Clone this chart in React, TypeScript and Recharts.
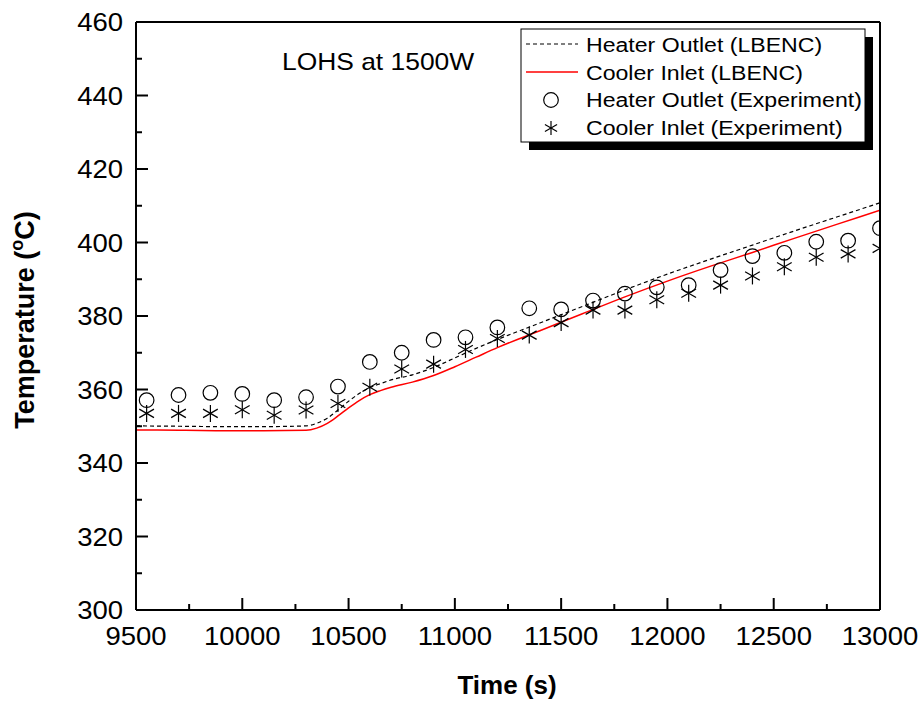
import React from 'react';
import { ComposedChart, Line, Scatter, XAxis, YAxis, Customized } from 'recharts';

// LBENC calculation (lines)
const lineTimes = [9500, 9700, 9900, 10100, 10300, 10350, 10400, 10450, 10500, 10550, 10600, 10650, 10700, 10800, 10900, 11000, 11100, 11200, 11400, 11600, 11800, 12000, 12200, 12400, 12600, 12800, 13000];
const heaterLbenc = [350.1, 350.0, 349.9, 349.9, 350.1, 350.8, 352.2, 354.4, 356.8, 358.9, 360.5, 361.6, 362.6, 364.0, 366.0, 368.6, 371.2, 373.6, 378.1, 382.6, 387.1, 391.4, 395.4, 399.3, 403.2, 407.0, 410.8];
const coolerLbenc = [349.0, 348.9, 348.8, 348.8, 348.9, 349.5, 350.8, 352.8, 355.0, 357.0, 358.6, 359.7, 360.6, 362.0, 363.8, 366.2, 368.8, 371.4, 376.0, 380.6, 385.2, 389.5, 393.5, 397.3, 401.2, 405.0, 408.8];

// Experiment (markers)
const expTimes = [9550, 9700, 9850, 10000, 10150, 10300, 10450, 10600, 10750, 10900, 11050, 11200, 11350, 11500, 11650, 11800, 11950, 12100, 12250, 12400, 12550, 12700, 12850, 13000];
const heaterExp = [357.1, 358.5, 359.1, 358.8, 357.1, 357.9, 360.8, 367.5, 370.0, 373.5, 374.2, 376.9, 382.1, 381.8, 384.2, 386.1, 387.8, 388.4, 392.5, 396.3, 397.2, 400.2, 400.5, 403.9];
const coolerExp = [353.5, 353.5, 353.5, 354.5, 353.0, 354.4, 356.2, 360.6, 365.6, 366.9, 370.9, 373.9, 374.8, 378.2, 381.6, 381.6, 384.4, 386.2, 388.4, 390.9, 393.4, 396.0, 396.9, 398.4];

const xTicks = [9500, 9750, 10000, 10250, 10500, 10750, 11000, 11250, 11500, 11750, 12000, 12250, 12500, 12750, 13000];
const yTicks = [300, 310, 320, 330, 340, 350, 360, 370, 380, 390, 400, 410, 420, 430, 440, 450, 460];

const legendItems = ['Heater Outlet (LBENC)', 'Cooler Inlet (LBENC)', 'Heater Outlet (Experiment)', 'Cooler Inlet (Experiment)'];

const lineData = lineTimes.map((t, i) => ({ time: t, heater: heaterLbenc[i], cooler: coolerLbenc[i] }));
const heaterExpData = expTimes.map((t, i) => ({ time: t, heaterExp: heaterExp[i] }));
const coolerExpData = expTimes.map((t, i) => ({ time: t, coolerExp: coolerExp[i] }));

const FONT = '"Liberation Sans", Arial, sans-serif';

const OpenCircle = ({ cx, cy }: any) => (
  <circle cx={cx} cy={cy} r={7.3} fill="none" stroke="#000" strokeWidth={1.2} />
);

const Star = ({ cx, cy, r = 8.5 }: any) => {
  const dx = r * Math.sin(Math.PI / 3);
  const dy = r * Math.cos(Math.PI / 3);
  return (
    <g stroke="#000" strokeWidth={1.2}>
      <line x1={cx} y1={cy - r} x2={cx} y2={cy + r} />
      <line x1={cx - dx} y1={cy - dy} x2={cx + dx} y2={cy + dy} />
      <line x1={cx - dx} y1={cy + dy} x2={cx + dx} y2={cy - dy} />
    </g>
  );
};

const XTick = (props: any) => {
  const { x, y, payload } = props;
  const major = payload.value % 500 === 0;
  return (
    <g>
      <line x1={x} x2={x} y1={y} y2={y - (major ? 12 : 6)} stroke="#000" strokeWidth={2} />
      {major && (
        <text transform={`translate(${x},${y + 35}) scale(1.1,1)`} textAnchor="middle" fontSize={25} fontFamily={FONT} fill="#000">
          {payload.value}
        </text>
      )}
    </g>
  );
};

const YTick = (props: any) => {
  const { x, y, payload } = props;
  const major = payload.value % 20 === 0;
  return (
    <g>
      <line x1={x} x2={x + (major ? 12 : 6)} y1={y} y2={y} stroke="#000" strokeWidth={2} />
      {major && (
        <text transform={`translate(${x - 13},${y + 9}) scale(1.1,1)`} textAnchor="end" fontSize={25} fontFamily={FONT} fill="#000">
          {payload.value}
        </text>
      )}
    </g>
  );
};

const LegendBox = () => (
  <g transform="translate(515,25)">
    <rect x={14} y={12} width={344} height={113} fill="#000" />
    <rect x={6} y={4} width={344} height={113} fill="#fff" stroke="#000" strokeWidth={1} />
    <line x1={11} x2={63} y1={19} y2={19} stroke="#000" strokeWidth={1.2} strokeDasharray="4 3" />
    <line x1={11} x2={63} y1={47} y2={47} stroke="#ff0000" strokeWidth={1.5} />
    <OpenCircle cx={36} cy={75} />
    <Star cx={36} cy={103} r={7} />
    {legendItems.map((label, i) => (
      <text key={label} transform={`translate(71,${27 + i * 27.7}) scale(1.1,1)`} fontSize={21} fontFamily={FONT} fill="#000">
        {label}
      </text>
    ))}
  </g>
);

const Annotations = () => (
  <g fontFamily={FONT} fill="#000">
    <text transform="translate(282,70) scale(1.1,1)" fontSize={24}>LOHS at 1500W</text>
    <text x={507} y={694} textAnchor="middle" fontSize={26} fontWeight="bold">Time (s)</text>
    <text transform="translate(34,320) rotate(-90)" textAnchor="middle" fontSize={27} fontWeight="bold">
      Temperature (<tspan fontSize={18} dy={-11}>o</tspan><tspan dy={11}>C)</tspan>
    </text>
  </g>
);

const App = () => {
  return (
    <div style={{ position: 'absolute', left: 0, top: 0, background: '#fff' }}>
      <ComposedChart width={922} height={701} margin={{ top: 12, right: 32, bottom: 51, left: 76 }}>
        <XAxis
          xAxisId="bottom"
          dataKey="time"
          type="number"
          domain={[9500, 13000]}
          ticks={xTicks}
          interval={0}
          height={40}
          tickSize={0}
          tickMargin={0}
          tickLine={false}
          tick={<XTick />}
          axisLine={{ stroke: '#000', strokeWidth: 2 }}
          allowDataOverflow
        />
        <XAxis
          xAxisId="top"
          orientation="top"
          type="number"
          domain={[9500, 13000]}
          height={10}
          tick={false}
          tickLine={false}
          axisLine={{ stroke: '#000', strokeWidth: 2 }}
        />
        <YAxis
          yAxisId="left"
          type="number"
          domain={[300, 460]}
          ticks={yTicks}
          interval={0}
          width={60}
          tickSize={0}
          tickMargin={0}
          tickLine={false}
          tick={<YTick />}
          axisLine={{ stroke: '#000', strokeWidth: 2 }}
          allowDataOverflow
        />
        <YAxis
          yAxisId="right"
          orientation="right"
          type="number"
          domain={[300, 460]}
          width={10}
          tick={false}
          tickLine={false}
          axisLine={{ stroke: '#000', strokeWidth: 2 }}
        />
        <Line xAxisId="bottom" yAxisId="left" data={lineData} dataKey="heater" type="monotone" stroke="#000" strokeWidth={1.2} strokeDasharray="4 3" dot={false} isAnimationActive={false} />
        <Line xAxisId="bottom" yAxisId="left" data={lineData} dataKey="cooler" type="monotone" stroke="#ff0000" strokeWidth={1.5} dot={false} isAnimationActive={false} />
        <Scatter xAxisId="bottom" yAxisId="left" data={heaterExpData} dataKey="heaterExp" shape={<OpenCircle />} isAnimationActive={false} />
        <Scatter xAxisId="bottom" yAxisId="left" data={coolerExpData} dataKey="coolerExp" shape={<Star />} isAnimationActive={false} />
        <Customized component={<LegendBox />} />
        <Customized component={<Annotations />} />
      </ComposedChart>
    </div>
  );
};

export default App;
